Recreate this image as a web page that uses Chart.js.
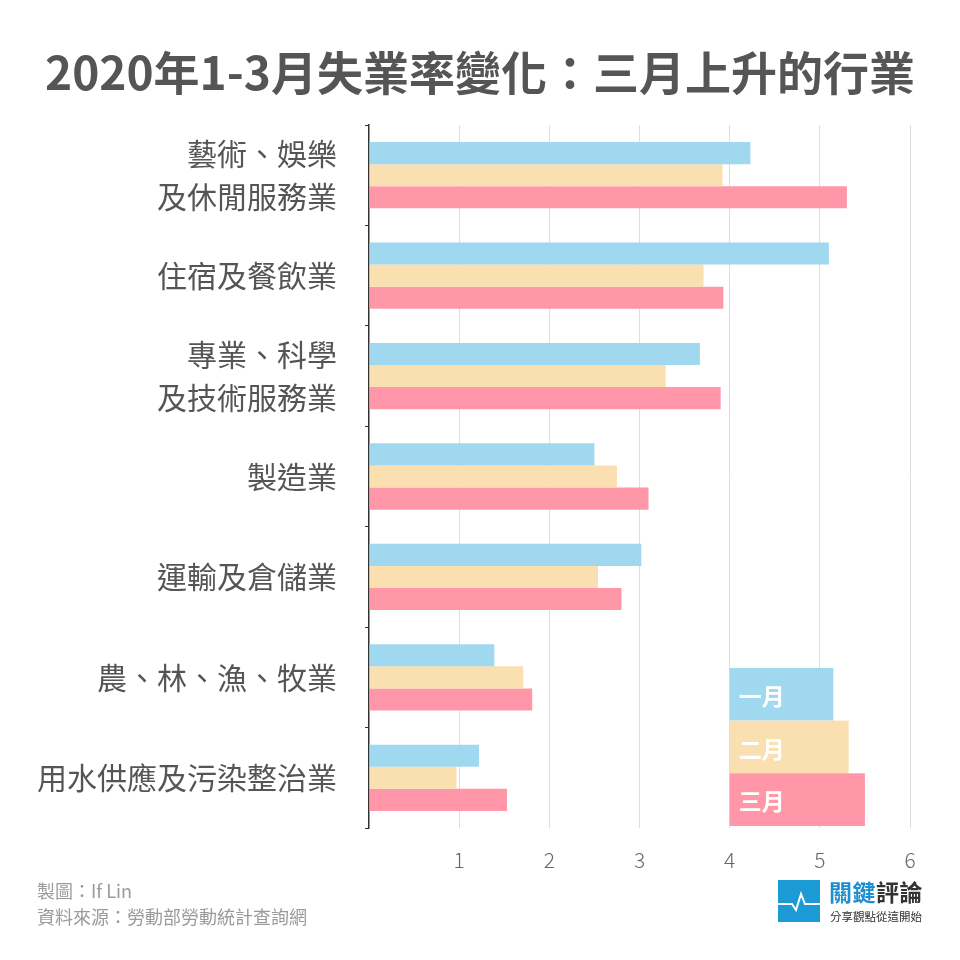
<!DOCTYPE html>
<html>
<head>
<meta charset="utf-8">
<script src="https://cdn.jsdelivr.net/npm/chart.js@4/dist/chart.umd.min.js"></script>
<style>
  html, body { margin: 0; padding: 0; background: #fff; }
  body { width: 960px; height: 960px; position: relative; overflow: hidden;
         font-family: "Noto Sans CJK TC", "Noto Sans", sans-serif; }
  #wrap { position: absolute; left: 0; top: 0; width: 960px; height: 960px; }
  #title { position: absolute; left: 0; top: 40px; width: 960px; text-align: center;
           font-size: 46px; font-weight: 700; color: #555; line-height: 60px; }
  .credit { position: absolute; left: 37px; font-size: 18px; color: #9a9a9a; line-height: 24px; }
  #logo { position: absolute; left: 778px; top: 880px; width: 42px; height: 42px; background: #1c9ad6; }
  #brand { position: absolute; left: 829px; top: 876px; font-size: 23px; font-weight: 700; line-height: 30px; letter-spacing: 0.5px; }
  #slogan { position: absolute; left: 830px; top: 908px; font-size: 11.5px; color: #333; line-height: 16px; }
</style>
</head>
<body>
<div id="wrap"><canvas id="chart"></canvas></div>
<div id="title">2020年1-3月失業率變化：三月上升的行業</div>
<div class="credit" style="top:878px">製圖：If Lin</div>
<div class="credit" style="top:904px">資料來源：勞動部勞動統計查詢網</div>
<div id="logo">
  <svg width="42" height="42" viewBox="0 0 42 42">
    <polyline points="0,24 14,24 18,30 23,14 27,24 42,24" fill="none" stroke="#fff" stroke-width="2"/>
  </svg>
</div>
<div id="brand"><span style="color:#1c8fd0">關鍵</span><span style="color:#333">評論</span></div>
<div id="slogan">分享觀點從這開始</div>
<script>
// categories (top to bottom)
const categories = [
  ["藝術、娛樂", "及休閒服務業"],
  "住宿及餐飲業",
  ["專業、科學", "及技術服務業"],
  "製造業",
  "運輸及倉儲業",
  "農、林、漁、牧業",
  "用水供應及污染整治業"
];
const seriesNames = ["一月", "二月", "三月"];
// unemployment rate (%)
const jan = [4.23, 5.10, 3.67, 2.50, 3.02, 1.39, 1.22];
const feb = [3.92, 3.71, 3.29, 2.75, 2.54, 1.71, 0.97];
const mar = [5.30, 3.93, 3.90, 3.10, 2.80, 1.81, 1.53];
const xTicks = [1, 2, 3, 4, 5, 6];

const colors = ["#a0d8f0", "#fadfb0", "#ff97a8"];
const FONT = '"Noto Sans CJK TC", "Noto Sans", sans-serif';

// legend drawn as stacked bars inside the plot (bottom right)
const barLegend = {
  id: 'barLegend',
  afterDatasetsDraw(chart) {
    const ctx = chart.ctx;
    const x = chart.scales.x;
    const area = chart.chartArea;
    const ends = [5.15, 5.32, 5.5];
    const h = 52.7;
    const left = x.getPixelForValue(4);
    const top0 = area.bottom - h * 3 - 2;
    ctx.save();
    seriesNames.forEach((name, i) => {
      const y = top0 + i * h;
      ctx.fillStyle = colors[i];
      ctx.fillRect(left, y, x.getPixelForValue(ends[i]) - left, h);
      ctx.fillStyle = '#fff';
      ctx.font = '700 23px ' + FONT;
      ctx.textBaseline = 'middle';
      ctx.fillText(name, left + 9, y + h / 2 + 2);
    });
    ctx.restore();
  }
};

new Chart(document.getElementById('chart'), {
  type: 'bar',
  data: {
    labels: categories,
    datasets: [jan, feb, mar].map((d, i) => ({
      label: seriesNames[i],
      data: d,
      backgroundColor: colors[i],
      barPercentage: 1,
      categoryPercentage: 0.66
    }))
  },
  options: {
    indexAxis: 'y',
    responsive: true,
    maintainAspectRatio: false,
    animation: false,
    layout: { padding: { top: 125, right: 50, left: 0, bottom: 72 } },
    plugins: {
      legend: { display: false },
      tooltip: { enabled: false }
    },
    scales: {
      x: {
        min: 0,
        max: 6,
        afterFit: s => { s.height = 60; },
        afterBuildTicks: s => { s.ticks = [0].concat(xTicks).map(v => ({ value: v })); },
        border: { display: false },
        grid: {
          drawTicks: false,
          color: c => c.tick && c.tick.value === 0 ? 'rgba(0,0,0,0)' : '#dedede',
          lineWidth: 1
        },
        ticks: {
          padding: 19,
          color: '#666',
          font: { family: FONT, size: 21, weight: 300 },
          callback: v => v === 0 ? '' : v
        }
      },
      y: {
        afterFit: s => { s.width = 369; },
        border: { display: true, color: '#333', width: 1.5 },
        grid: { display: true, drawOnChartArea: false, drawTicks: true, tickLength: 4, color: '#333' },
        ticks: {
          padding: 28,
          color: '#555',
          font: { family: FONT, size: 30, lineHeight: 1.43 }
        }
      }
    }
  },
  plugins: [barLegend]
});
</script>
</body>
</html>
